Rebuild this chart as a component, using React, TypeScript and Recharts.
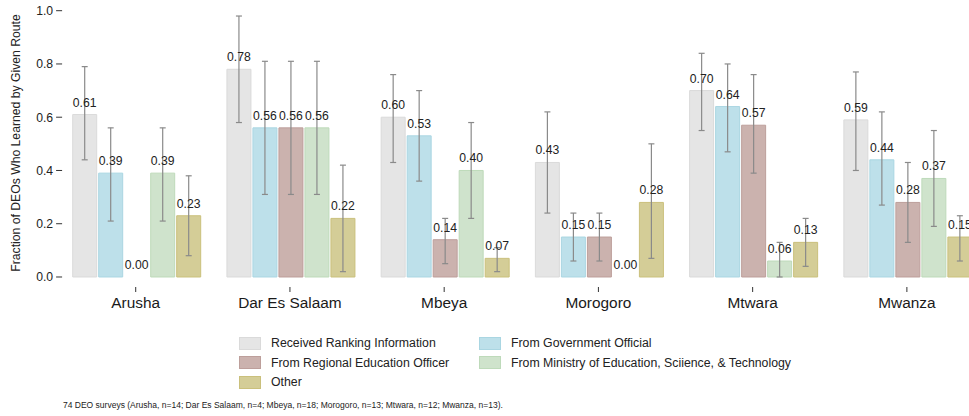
import { BarChart, Bar, XAxis, YAxis, ErrorBar, LabelList, Legend, Cell } from 'recharts';

const FONT = '"Liberation Sans", Arial, Helvetica, sans-serif';

const regions = ['Arusha', 'Dar Es Salaam', 'Mbeya', 'Morogoro', 'Mtwara', 'Mwanza'];

// share of DEOs per route, with 95% interval bounds (null = no interval drawn)
const ranking = [0.61, 0.78, 0.6, 0.43, 0.7, 0.59];
const rankingLo = [0.44, 0.58, 0.43, 0.24, 0.55, 0.4];
const rankingHi = [0.79, 0.98, 0.76, 0.62, 0.84, 0.77];

const government = [0.39, 0.56, 0.53, 0.15, 0.64, 0.44];
const governmentLo = [0.21, 0.31, 0.36, 0.06, 0.47, 0.27];
const governmentHi = [0.56, 0.81, 0.7, 0.24, 0.8, 0.62];

const regional = [0.0, 0.56, 0.14, 0.15, 0.57, 0.28];
const regionalLo = [null, 0.31, 0.05, 0.06, 0.39, 0.13];
const regionalHi = [null, 0.81, 0.22, 0.24, 0.76, 0.43];

const ministry = [0.39, 0.56, 0.4, 0.0, 0.06, 0.37];
const ministryLo = [0.21, 0.31, 0.22, null, 0.0, 0.19];
const ministryHi = [0.56, 0.81, 0.58, null, 0.13, 0.55];

const other = [0.23, 0.22, 0.07, 0.28, 0.13, 0.15];
const otherLo = [0.08, 0.02, 0.02, 0.07, 0.04, 0.06];
const otherHi = [0.38, 0.42, 0.11, 0.5, 0.22, 0.23];

const yTicks = [0, 0.2, 0.4, 0.6, 0.8, 1.0];

const footnote =
  '74 DEO surveys (Arusha, n=14; Dar Es Salaam, n=4; Mbeya, n=18; Morogoro, n=13; Mtwara, n=12; Mwanza, n=13).';

const series = [
  { key: 'ranking', name: 'Received Ranking Information', values: ranking, lo: rankingLo, hi: rankingHi, fill: '#e5e5e5', stroke: '#dadada' },
  { key: 'government', name: 'From Government Official', values: government, lo: governmentLo, hi: governmentHi, fill: '#bde0ea', stroke: '#aad6e2' },
  { key: 'regional', name: 'From Regional Education Officer', values: regional, lo: regionalLo, hi: regionalHi, fill: '#cbb2ae', stroke: '#bd9f9b' },
  { key: 'ministry', name: 'From Ministry of Education, Sciience, & Technology', values: ministry, lo: ministryLo, hi: ministryHi, fill: '#cfe3cc', stroke: '#bedaba' },
  { key: 'other', name: 'Other', values: other, lo: otherLo, hi: otherHi, fill: '#d4cd97', stroke: '#cac07c' },
];

// one row per region; error values are [below, above] offsets from the bar
const rows = regions.map((region, i) => {
  const row: Record<string, any> = { region };
  series.forEach((s) => {
    const v = s.values[i];
    const lo = s.lo[i];
    const hi = s.hi[i];
    row[s.key] = v;
    row[s.key + 'Err'] = lo == null || hi == null ? null : [v - lo, hi - v];
  });
  return row;
});

function YTick(props: any) {
  const { x, y, payload } = props;
  return (
    <g>
      <line x1={x - 2.5} x2={x + 3.5} y1={y} y2={y} stroke="#333" strokeWidth={1} />
      <text x={x - 5.5} y={y} dy="0.36em" textAnchor="end" fontSize={12.2} fill="#222" fontFamily={FONT}>
        {Number(payload.value).toFixed(1)}
      </text>
    </g>
  );
}

function YTitle() {
  return (
    <text
      x={16}
      y={143}
      transform="rotate(-90 16 143)"
      textAnchor="middle"
      dy="0.36em"
      fontSize={12.2}
      fill="#222"
      fontFamily={FONT}
    >
      Fraction of DEOs Who Learned by Given Route
    </text>
  );
}

// two-column legend, filled row by row in series order
function LegendGrid() {
  return (
    <div style={{ display: 'grid', gridTemplateColumns: '240px 320px', rowGap: 5.5, fontFamily: FONT }}>
      {series.map((s) => (
        <div key={s.key} style={{ display: 'flex', alignItems: 'center', height: 14 }}>
          <span
            style={{
              display: 'inline-block',
              width: 22,
              height: 13,
              background: s.fill,
              border: `1px solid ${s.stroke}`,
              boxSizing: 'border-box',
              marginRight: 10,
            }}
          />
          <span style={{ fontSize: 12.3, color: '#222', whiteSpace: 'nowrap' }}>{s.name}</span>
        </div>
      ))}
    </div>
  );
}

export default function App() {
  return (
    <div
      style={{
        position: 'fixed',
        left: 0,
        top: 0,
        width: 969,
        height: 416,
        overflow: 'hidden',
        background: '#fff',
        fontFamily: FONT,
      }}
    >
      <BarChart
        width={990}
        height={416}
        data={rows}
        margin={{ top: 10.7, right: 6, bottom: 99, left: 0 }}
        barCategoryGap={14.1}
        barGap={2}
      >
        <XAxis
          dataKey="region"
          axisLine={false}
          tickSize={5}
          tickMargin={5}
          tickLine={{ stroke: '#333' }}
          tick={{ fontSize: 15.4, fill: '#1a1a1a', fontFamily: FONT }}
          height={30}
          interval={0}
        />
        <YAxis
          type="number"
          domain={[-0.0376, 1]}
          ticks={yTicks}
          width={58.6}
          axisLine={false}
          tickLine={false}
          tickSize={0}
          tickMargin={0}
          tick={<YTick />}
          label={<YTitle />}
          allowDataOverflow
        />
        {series.map((s) => (
          <Bar
            key={s.key}
            dataKey={s.key}
            name={s.name}
            fill={s.fill}
            stroke={s.stroke}
            strokeWidth={1}
            minPointSize={0.01}
            isAnimationActive={false}
          >
            {s.values.map((v, i) => (
              <Cell key={i} fill={v === 0 ? 'transparent' : s.fill} stroke={v === 0 ? 'none' : s.stroke} />
            ))}
            <ErrorBar dataKey={s.key + 'Err'} width={3} stroke="#8a8a8a" strokeWidth={1.2} direction="y" />
            <LabelList
              dataKey={s.key}
              position="top"
              offset={8}
              formatter={(v: any) => Number(v).toFixed(2)}
              style={{ fontSize: 12.2, fill: '#222', fontFamily: FONT }}
            />
          </Bar>
        ))}
        <Legend
          layout="horizontal"
          align="center"
          verticalAlign="middle"
          content={<LegendGrid />}
          wrapperStyle={{ left: 239, top: 336, width: 600 }}
        />
      </BarChart>
      <div
        style={{
          position: 'absolute',
          left: 63,
          top: 399.5,
          fontSize: 8.5,
          lineHeight: '10px',
          color: '#222',
          whiteSpace: 'nowrap',
        }}
      >
        {footnote}
      </div>
    </div>
  );
}
